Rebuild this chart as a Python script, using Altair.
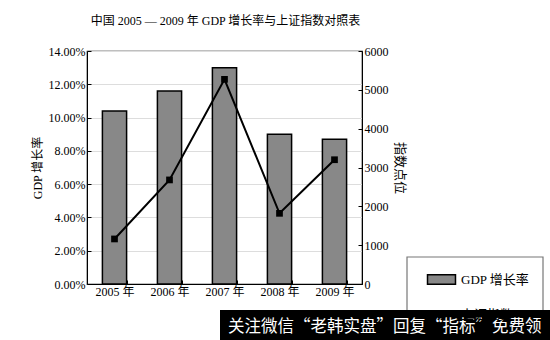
import altair as alt
import pandas as pd

years = ["2005 年", "2006 年", "2007 年", "2008 年", "2009 年"]
gdp_growth = [0.104, 0.116, 0.130, 0.090, 0.087]
sh_index = [1160, 2680, 5270, 1820, 3200]

title_text = "中国 2005 — 2009 年 GDP 增长率与上证指数对照表"
gdp_name = "GDP 增长率"
idx_name = "上证指数"
banner_text = "关注微信“老韩实盘”回复“指标”免费领"

df = pd.DataFrame({"year": years, "gdp": gdp_growth, "idx": sh_index,
                   "gl": [gdp_name] * 5, "il": [idx_name] * 5})
deco = pd.DataFrame({"t": [banner_text]})

FONT = "Liberation Serif, Noto Sans CJK SC"
CJK = "Noto Sans CJK SC"

x_axis = alt.Axis(title=None, labelAngle=0, labelFont=FONT, labelFontSize=12,
                  labelColor="black", domainColor="black", tickColor="black",
                  tickBand="extent", tickSize={"expr": "-4"}, labelPadding=6)
x_enc = alt.X("year:N", sort=years,
              scale=alt.Scale(paddingInner=0.56, paddingOuter=0.28), axis=x_axis)

right_axis = alt.Axis(orient="right", title="指数点位",
                      values=[0, 1000, 2000, 3000, 4000, 5000, 6000], format="d",
                      labelOverlap=False,
                      labelFont=FONT, labelFontSize=12, labelColor="black",
                      domainColor="black", tickColor="black", tickSize={"expr": "-4"},
                      labelPadding=6, titleFont=FONT, titleFontSize=13,
                      titleFontWeight="normal", titleColor="black", titlePadding=4)
idx_scale = alt.Scale(domain=[0, 6000], nice=False)

bars = alt.Chart(df).mark_bar(stroke="black", strokeWidth=1.5).encode(
    x=x_enc,
    y=alt.Y("gdp:Q", scale=alt.Scale(domain=[0, 0.14], nice=False),
            axis=alt.Axis(title=gdp_name, values=[0, 0.02, 0.04, 0.06, 0.08, 0.10, 0.12, 0.14],
                          format=".2%", labelFont=FONT, labelFontSize=12, labelColor="black",
                          domainColor="black", tickColor="black", tickSize={"expr": "-4"},
                          labelPadding=6, titleFont=FONT, titleFontSize=12,
                          titleFontWeight="normal", titleColor="black", titlePadding=4)),
    color=alt.Color("gl:N", scale=alt.Scale(domain=[gdp_name], range=["#888888"]),
                    legend=alt.Legend(orient="none", legendX=344, legendY=218, title=None,
                                      symbolType="M-1.5,-0.5H1.5V0.5H-1.5Z", symbolSize=348,
                                      symbolStrokeColor="black", symbolStrokeWidth=1.5,
                                      labelOffset=9, labelFont=FONT, labelFontSize=13,
                                      labelColor="black", padding=0)),
)

line = alt.Chart(df).mark_line(strokeWidth=2).encode(
    x=alt.X("year:N", sort=years, axis=x_axis),
    y=alt.Y("idx:Q", scale=idx_scale, axis=right_axis),
    stroke=alt.Stroke("il:N", scale=alt.Scale(domain=[idx_name], range=["black"]),
                      legend=alt.Legend(orient="none", legendX=344, legendY=253, title=None,
                                        symbolType="M-1.5,0H1.5M-0.3,-0.3H0.3V0.3H-0.3Z",
                                        symbolSize=348, symbolStrokeWidth=2,
                                        labelOffset=9, labelFont=FONT, labelFontSize=13,
                                        labelColor="black", padding=0)),
)

points = alt.Chart(df).mark_point(shape="square", filled=True, color="black", size=45,
                                  opacity=1).encode(
    x=alt.X("year:N", sort=years, axis=x_axis),
    y=alt.Y("idx:Q", scale=idx_scale, axis=right_axis),
)

right_layer = alt.layer(line, points)

legend_box = alt.Chart(deco).mark_rect(fill=None, stroke="#777", strokeWidth=1.2, clip=False).encode(
    x=alt.value(320), x2=alt.value(456), y=alt.value(206), y2=alt.value(300))

banner = alt.Chart(deco).mark_rect(fill="black", clip=False).encode(
    x=alt.value(133), x2=alt.value(470), y=alt.value(259), y2=alt.value(300))

banner_txt = alt.Chart(deco).mark_text(font=CJK, fontSize=16.5, color="white", align="left",
                                       baseline="alphabetic").encode(
    x=alt.value(141), y=alt.value(281), text="t:N")

chart = alt.layer(bars, right_layer, legend_box, banner, banner_txt).resolve_scale(
    y="independent", color="independent", stroke="independent"
).properties(
    width=275, height=233,
    padding={"left": 87, "top": 51, "right": 188, "bottom": 56},
    autosize=alt.AutoSizeParams(type="none"),
    title=alt.TitleParams(title_text, font=FONT, fontSize=12, fontWeight="normal",
                          color="black", anchor="middle", frame="group", offset=17, dx=1),
    background="white",
).configure_view(stroke="black", strokeWidth=1.2)

chart.save("out.html", embed_options={"renderer": "svg", "actions": False})
